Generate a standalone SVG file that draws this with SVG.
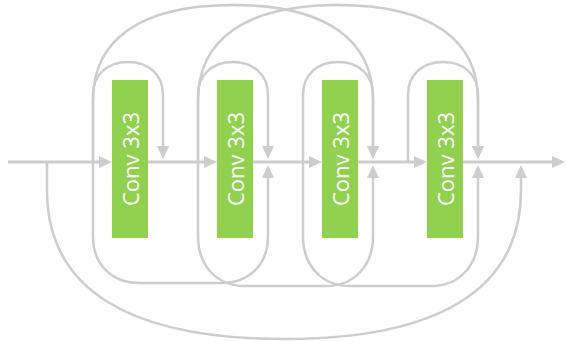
<svg xmlns="http://www.w3.org/2000/svg" width="566" height="341" viewBox="0 0 566 341">
  <style>
    .edge { fill: none; stroke: #CDCDCD; stroke-width: 2.5; }
    .main { stroke-width: 3; }
    .box { fill: #92D050; }
    .lbl { fill: #FFFFFF; font-family: "Open Sans", "Liberation Sans", sans-serif; font-size: 22px; text-anchor: middle; }
  </style>
  <defs>
    <marker id="arr" markerUnits="userSpaceOnUse" markerWidth="13" markerHeight="12" refX="6" refY="6" orient="auto">
      <path d="M0,0 L13,6 L0,12 z" fill="#CDCDCD"/>
    </marker>
  </defs>
  <rect width="566" height="341" fill="#FFFFFF"/>
  <g id="connectors">
    <!-- main line -->
    <path class="edge main" d="M8,162 H105" marker-end="url(#arr)"/>
    <path class="edge main" d="M148,162 H210" marker-end="url(#arr)"/>
    <path class="edge main" d="M253,162 H315" marker-end="url(#arr)"/>
    <path class="edge main" d="M358,162 H420" marker-end="url(#arr)"/>
    <path class="edge main" d="M463,162 H558" marker-end="url(#arr)"/>
    <!-- small upper loops -->
    <path class="edge" d="M93,162 V95 C93,74 108,62 128,62 C148,62 163,74 163,95 V152" marker-end="url(#arr)"/>
    <path class="edge" d="M198,162 V95 C198,74 213,62 233,62 C253,62 268,74 268,95 V152" marker-end="url(#arr)"/>
    <path class="edge" d="M303,162 V95 C303,74 318,62 338,62 C358,62 373,74 373,95 V152" marker-end="url(#arr)"/>
    <path class="edge" d="M408,162 V95 C408,74 423,62 443,62 C463,62 478,74 478,95 V152" marker-end="url(#arr)"/>
    <!-- big upper arcs -->
    <path class="edge" d="M93,162 V100 C93,40 140,5 233,5 C326,5 373,40 373,100 V152" marker-end="url(#arr)"/>
    <path class="edge" d="M198,162 V100 C198,40 245,5 338,5 C431,5 478,40 478,100 V152" marker-end="url(#arr)"/>
    <!-- lower loops -->
    <path class="edge" d="M93,162 V236 C93,265 112,283 140,283 H221 C249,283 268,265 268,236 V172" marker-end="url(#arr)"/>
    <path class="edge" d="M198,162 V236 C198,266 217,286 245,286 H326 C354,286 373,266 373,236 V172" marker-end="url(#arr)"/>
    <path class="edge" d="M303,162 V236 C303,266 322,286 350,286 H431 C459,286 478,266 478,236 V172" marker-end="url(#arr)"/>
    <!-- big lower arc -->
    <path class="edge" d="M47,162 V190 C47,290 130,339 284,339 C438,339 521,290 521,190 V172" marker-end="url(#arr)"/>
  </g>
  <g id="conv1">
    <rect class="box" x="112" y="80" width="36" height="158"/>
    <text class="lbl" transform="translate(130,159) rotate(-90)" y="8.5">Conv 3x3</text>
  </g>
  <g id="conv2">
    <rect class="box" x="217" y="80" width="36" height="158"/>
    <text class="lbl" transform="translate(235,159) rotate(-90)" y="8.5">Conv 3x3</text>
  </g>
  <g id="conv3">
    <rect class="box" x="322" y="80" width="36" height="158"/>
    <text class="lbl" transform="translate(340,159) rotate(-90)" y="8.5">Conv 3x3</text>
  </g>
  <g id="conv4">
    <rect class="box" x="427" y="80" width="36" height="158"/>
    <text class="lbl" transform="translate(445,159) rotate(-90)" y="8.5">Conv 3x3</text>
  </g>
</svg>
